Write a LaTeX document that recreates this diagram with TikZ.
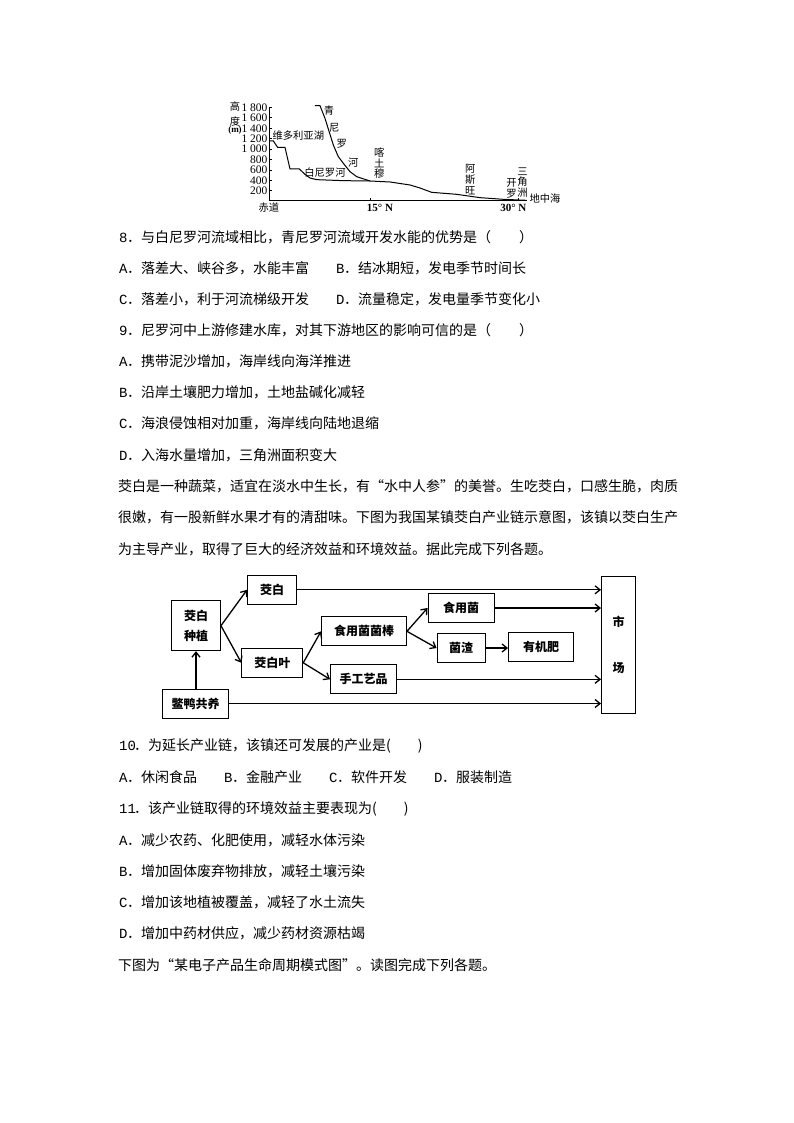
\documentclass[tikz,border=0pt]{standalone}
\usepackage{fontspec}
\setmainfont{Noto Sans CJK SC}
\newfontfamily\monolatin{Liberation Mono}
\newfontfamily\serifnum{Liberation Serif}
\usetikzlibrary{arrows.meta}
\newcommand{\qmark}[2][8pt]{\makebox[#1][l]{\monolatin #2}．}

\tikzset{
	bodyline/.style={anchor=west,inner sep=0pt,font=\fontsize{14}{14}\selectfont},
	flowbox/.style={draw,line width=0.9pt,inner sep=0pt,align=center,font=\fontsize{12}{20}\selectfont\bfseries},
	flowarrow/.style={-{Straight Barb[length=5pt,width=8pt]},line width=1.3pt},
	chartlab/.style={inner sep=0pt,align=center,font=\fontsize{10.3}{10.6}\selectfont},
	ticklab/.style={inner sep=0pt,anchor=east,font=\fontsize{11.5}{11.5}\selectfont\serifnum}
}

\begin{document}
\begin{tikzpicture}[x=1pt,y=-1pt]
	\useasboundingbox (0,0) rectangle (794,1123);

	% profile of the river
	\begin{scope}[shift={(210,95)},x=0.3333pt,y=-0.3333pt]
		\draw[line width=0.8pt] (178,35) -- (178,316) -- (950,316);
		\foreach \val/\ypos in {1 800/37,1 600/68,1 400/100,1 200/131,1 000/162,800/193,600/225,400/256,200/287}{
			\draw[line width=0.6pt] (178,\ypos) -- (186,\ypos);
			\node[ticklab] (tick\ypos) at (173,\ypos) {\val};
		}
		\draw[line width=0.6pt] (480,316) -- (480,310);
		\draw[line width=0.6pt] (925,316) -- (925,310);
		\draw[line width=1pt] (178,138) -- (190,138) -- (203,157) -- (225,157) -- (240,222) -- (268,222) -- (285,238) -- (300,249) -- (320,254)
			-- (400,257) -- (480,258) -- (540,261) -- (600,270) -- (630,279) -- (665,292) -- (740,298) -- (810,308) -- (880,313) -- (950,316);
		\draw[line width=1pt] (315,32) -- (330,32) -- (345,70) -- (370,150) -- (385,185) -- (400,205) -- (420,230) -- (440,245) -- (480,258);

		\node[chartlab] (gao) at (75,57) {高\\[4.5pt]度};
		\node[chartlab,font=\fontsize{9}{9}\selectfont\serifnum\bfseries] (unit) at (75,105) {(m)};
		\node[chartlab] (lake) at (265,122) {维多利亚湖};
		\node[chartlab] (white) at (345,234) {白尼罗河};
		\node[chartlab] (blue1) at (357,47) {青};
		\node[chartlab] (blue2) at (373,100) {尼};
		\node[chartlab] (blue3) at (395,147) {罗};
		\node[chartlab] (blue4) at (430,203) {河};
		\node[chartlab] (khartoum) at (508,205) {喀\\土\\穆};
		\node[chartlab] (aswan) at (781,254) {阿\\斯\\旺};
		\node[chartlab] (cairo) at (905,280) {开\\罗};
		\node[chartlab] (delta) at (938,262) {三\\角\\洲};
		\node[chartlab] (medsea) at (1005,311) {地中海};
		\node[chartlab] (equator) at (177,337) {赤道};
		\node[chartlab,font=\fontsize{11}{11}\selectfont\serifnum\bfseries] (lat15) at (510,339) {15° N};
		\node[chartlab,font=\fontsize{11}{11}\selectfont\serifnum\bfseries] (lat30) at (910,339) {30° N};
	\end{scope}

	\node[bodyline] (q8) at (119,237) {\qmark{8}与白尼罗河流域相比，青尼罗河流域开发水能的优势是（　　）};
	\node[bodyline] (q8a) at (119,268) {\qmark{A}落差大、峡谷多，水能丰富};
	\node[bodyline] (q8b) at (336,268) {\qmark{B}结冰期短，发电季节时间长};
	\node[bodyline] (q8c) at (119,299) {\qmark{C}落差小，利于河流梯级开发};
	\node[bodyline] (q8d) at (336,299) {\qmark{D}流量稳定，发电量季节变化小};
	\node[bodyline] (q9) at (119,330) {\qmark{9}尼罗河中上游修建水库，对其下游地区的影响可信的是（　　）};
	\node[bodyline] (q9a) at (119,361) {\qmark{A}携带泥沙增加，海岸线向海洋推进};
	\node[bodyline] (q9b) at (119,392) {\qmark{B}沿岸土壤肥力增加，土地盐碱化减轻};
	\node[bodyline] (q9c) at (119,423) {\qmark{C}海浪侵蚀相对加重，海岸线向陆地退缩};
	\node[bodyline] (q9d) at (119,455) {\qmark{D}入海水量增加，三角洲面积变大};
	\node[bodyline] (para1) at (118,486) {茭白是一种蔬菜，适宜在淡水中生长，有“水中人参”的美誉。生吃茭白，口感生脆，肉质};
	\node[bodyline] (para2) at (118,517) {很嫩，有一股新鲜水果才有的清甜味。下图为我国某镇茭白产业链示意图，该镇以茭白生产};
	\node[bodyline] (para3) at (118,549) {为主导产业，取得了巨大的经济效益和环境效益。据此完成下列各题。};

	% chain of the industry
	\node[flowbox,minimum width=49pt,minimum height=50pt] (plant) at (196,625.7) {茭白\\种植};
	\node[flowbox,minimum width=49pt,minimum height=29pt] (bai) at (272,589.8) {茭白};
	\node[flowbox,minimum width=61pt,minimum height=29pt] (leaf) at (272.3,662.8) {茭白叶};
	\node[flowbox,minimum width=85pt,minimum height=29pt] (stick) at (364,631.3) {食用菌菌棒};
	\node[flowbox,minimum width=66pt,minimum height=29pt] (craft) at (363.5,679.3) {手工艺品};
	\node[flowbox,minimum width=66pt,minimum height=29pt] (duck) at (195.7,703.5) {鳖鸭共养};
	\node[flowbox,minimum width=66pt,minimum height=29pt] (fungus) at (461,608) {食用菌};
	\node[flowbox,minimum width=48pt,minimum height=29pt] (waste) at (461,648) {菌渣};
	\node[flowbox,minimum width=65pt,minimum height=29pt] (manure) at (541,647) {有机肥};
	\node[flowbox,minimum width=34pt,minimum height=137pt,font=\fontsize{12}{46}\selectfont\bfseries] (market) at (618.5,644.7) {市\\场};

	\draw[flowarrow] (plant.east) -- (bai.west);
	\draw[flowarrow] (plant.east) -- (leaf.west);
	\draw[flowarrow] (duck.north -| plant.south) -- (plant.south);
	\draw[flowarrow] (leaf.east) -- (stick.west);
	\draw[flowarrow] (leaf.east) -- (craft.west);
	\draw[flowarrow] (stick.east) -- (fungus.west);
	\draw[flowarrow] (stick.east) -- (waste.west);
	\draw[flowarrow] (waste.east) -- (manure.west |- waste.east);
	\draw[flowarrow] (bai.east) -- (bai.east -| market.west);
	\draw[flowarrow] (fungus.east) -- (fungus.east -| market.west);
	\draw[flowarrow] (craft.east) -- (craft.east -| market.west);
	\draw[flowarrow] (duck.east) -- (duck.east -| market.west);

	\node[bodyline] (q10) at (119,746) {\qmark[15pt]{10}为延长产业链，该镇还可发展的产业是(\hspace{27pt})};
	\node[bodyline] (q10a) at (119,777) {\qmark{A}休闲食品};
	\node[bodyline] (q10b) at (224,777) {\qmark{B}金融产业};
	\node[bodyline] (q10c) at (329,777) {\qmark{C}软件开发};
	\node[bodyline] (q10d) at (434,777) {\qmark{D}服装制造};
	\node[bodyline] (q11) at (119,809) {\qmark[15pt]{11}该产业链取得的环境效益主要表现为(\hspace{27pt})};
	\node[bodyline] (q11a) at (119,840) {\qmark{A}减少农药、化肥使用，减轻水体污染};
	\node[bodyline] (q11b) at (119,871) {\qmark{B}增加固体废弃物排放，减轻土壤污染};
	\node[bodyline] (q11c) at (119,902) {\qmark{C}增加该地植被覆盖，减轻了水土流失};
	\node[bodyline] (q11d) at (119,933) {\qmark{D}增加中药材供应，减少药材资源枯竭};
	\node[bodyline] (para4) at (118,965) {下图为“某电子产品生命周期模式图”。读图完成下列各题。};
\end{tikzpicture}
\end{document}
